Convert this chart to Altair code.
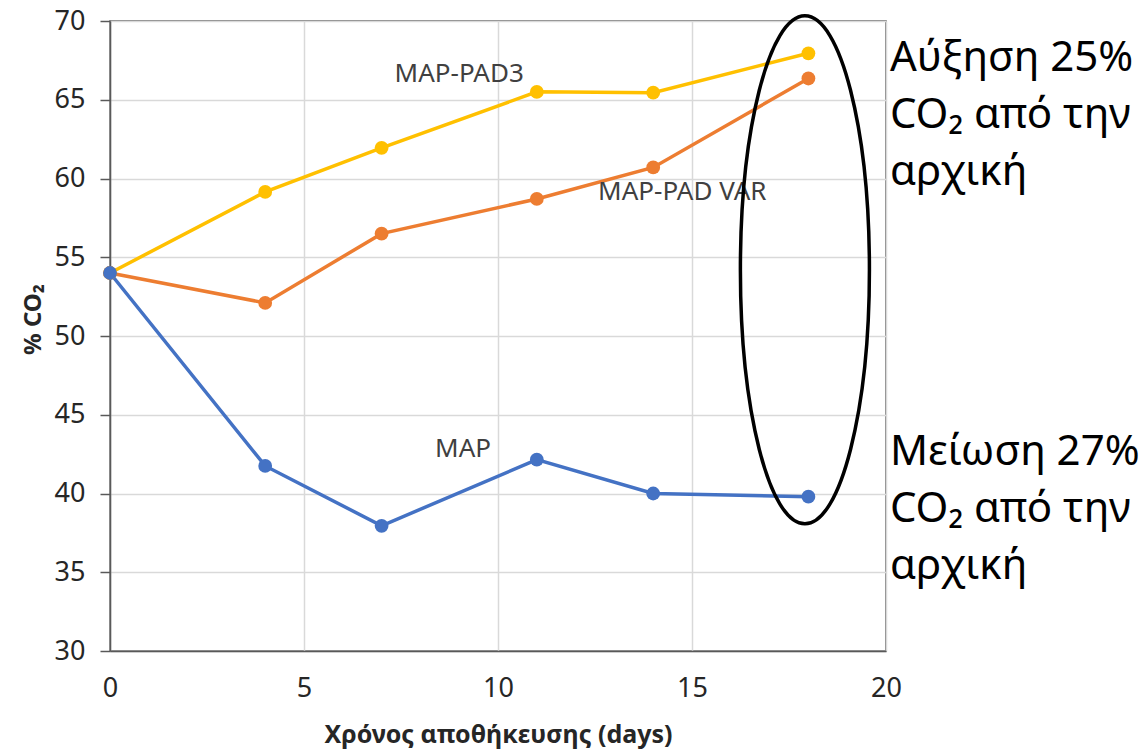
import altair as alt
import pandas as pd

days = [0, 4, 7, 11, 14, 18]
map_pad3 = [54.0, 59.15, 61.95, 65.5, 65.45, 67.95]
map_pad_var = [54.0, 52.1, 56.5, 58.7, 60.7, 66.35]
map_only = [54.0, 41.75, 37.95, 42.15, 40.0, 39.8]

series_names = ["MAP-PAD3", "MAP-PAD VAR", "MAP"]
series_colors = ["#FFC000", "#ED7D31", "#4472C4"]

label_text = ["MAP-PAD3", "MAP-PAD VAR", "MAP"]
label_x = [9.0, 14.75, 9.1]
label_y = [66.1, 58.65, 42.3]

note_text = [["Αύξηση 25%", "CO₂ από την", "αρχική"],
             ["Μείωση 27%", "CO₂ από την", "αρχική"]]
note_x = [20.1, 20.1]
note_y = [66.8, 41.8]

ellipse_x = [17.91]
ellipse_y = [54.2]

rows = []
for name, vals in zip(series_names, [map_pad3, map_pad_var, map_only]):
    for d, v in zip(days, vals):
        rows.append({"day": d, "co2": v, "series": name})
df = pd.DataFrame(rows)

labels = pd.DataFrame({"day": label_x, "co2": label_y, "t": label_text})
notes = pd.DataFrame({"day": note_x, "co2": note_y, "t": note_text})
ell = pd.DataFrame({"day": ellipse_x, "co2": ellipse_y})

FONT = "Noto Sans"
xscale = alt.Scale(domain=[0, 20], nice=False)
yscale = alt.Scale(domain=[30, 70], nice=False)

color = alt.Color("series:N", scale=alt.Scale(domain=series_names, range=series_colors), legend=None)

x_enc = alt.X("day:Q", scale=xscale,
              axis=alt.Axis(values=[0, 5, 10, 15, 20], title="Χρόνος αποθήκευσης (days)",
                            ticks=False, labelPadding=24, titlePadding=21, labelFlush=False,
                            labelFontSize=27, labelFont=FONT))
y_enc = alt.Y("co2:Q", scale=yscale,
              axis=alt.Axis(values=[30, 35, 40, 45, 50, 55, 60, 65, 70], title="% CO₂",
                            ticks=True, tickSize=10, labelPadding=15, titlePadding=9,
                            labelFlush=False, titleY=298,
                            labelFontSize=27, labelFont=FONT))

lines = alt.Chart(df).mark_line(strokeWidth=3.5, clip=False).encode(
    x=x_enc, y=y_enc, color=color, detail="series:N")
points = alt.Chart(df).mark_point(filled=True, size=190, opacity=1).encode(
    x=x_enc, y=y_enc, color=color)

lab = alt.Chart(labels).mark_text(font=FONT, fontSize=26, color="#404040", align="center",
                                  baseline="alphabetic").encode(
    x=x_enc, y=y_enc, text="t")

note = alt.Chart(notes).mark_text(font=FONT, fontSize=42, color="#000000", align="left",
                                  baseline="alphabetic", lineHeight=57).encode(
    x=x_enc, y=y_enc, text="t")

ell_path = ("M 0 -1 C 0.1403 -1 0.254 -0.5523 0.254 0 C 0.254 0.5523 0.1403 1 0 1 "
            "C -0.1403 1 -0.254 0.5523 -0.254 0 C -0.254 -0.5523 -0.1403 -1 0 -1 Z")
ellipse = alt.Chart(ell).mark_point(shape=ell_path, size=258064, filled=False, stroke="#000000",
                                    strokeWidth=3.5, opacity=1).encode(
    x=x_enc, y=y_enc)

chart = alt.layer(lines, points, lab, ellipse, note).properties(
    width=776, height=630,
    autosize=alt.AutoSizeParams(type="none"),
    padding={"left": 110, "top": 21, "right": 253, "bottom": 104},
    background="white",
).configure_view(
    stroke="#595959", strokeWidth=1.5
).configure_axis(
    labelFont=FONT, titleFont=FONT, labelFontSize=27,
    titleFontWeight="bold", labelColor="#262626", titleColor="#262626",
    domainColor="#595959", domainWidth=1.5, tickColor="#595959", tickWidth=1.5,
    gridColor="#D9D9D9", gridWidth=1.5,
).configure_axisX(
    titleFontSize=25
).configure_axisY(
    titleFontSize=24
)

chart.save("out.html", embed_options={"renderer": "svg", "actions": False})
